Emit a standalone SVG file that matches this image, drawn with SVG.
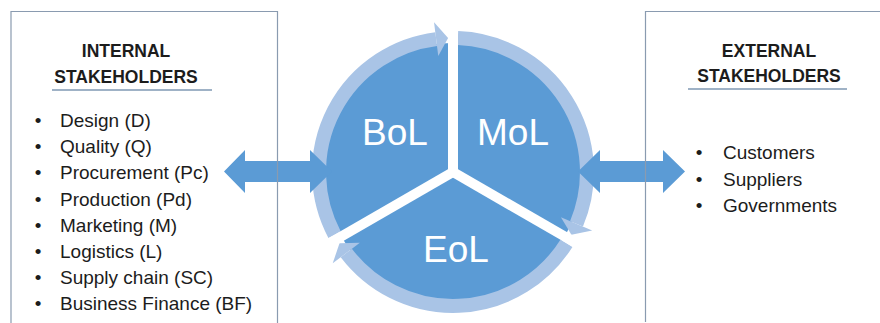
<svg xmlns="http://www.w3.org/2000/svg" width="880" height="323" viewBox="0 0 880 323">
  <style>
    .box { fill: none; stroke: #8a9bb0; stroke-width: 1.2; }
    .title { font-family: "Liberation Sans", Arial, sans-serif; font-weight: bold; font-size: 17.5px; fill: #1c1c1c; text-anchor: middle; }
    .item { font-family: "Liberation Sans", Arial, sans-serif; font-size: 19px; fill: #1c1c1c; }
    .bullet { font-family: "Liberation Sans", Arial, sans-serif; font-size: 19px; fill: #1c1c1c; text-anchor: middle; }
    .rule { stroke: #9fb2c6; stroke-width: 2; }
    .stage { font-family: "Liberation Sans", Arial, sans-serif; font-size: 37px; fill: #ffffff; text-anchor: middle; }
    .ring { fill: none; stroke: #a9c4e6; stroke-width: 14; }
    .head { fill: #a9c4e6; }
    .gap { stroke: #ffffff; stroke-width: 10; }
    .dbl { fill: #5b9bd5; }
  </style>
  <rect width="880" height="323" fill="#ffffff"/>

  <!-- Lifecycle cycle -->
  <g id="cycle">
    <circle cx="453" cy="172" r="129" fill="#5b9bd5"/>
    <g id="ring-arrows">
      <g id="mol-arrow">
        <path class="ring" d="M457.9,38.1 A134,134 0 0 1 576.5,223.9"/>
        <polygon class="head" points="560.9,217.3 592.2,230.5 571.4,234.7"/>
      </g>
      <g id="eol-arrow" transform="rotate(120 453 172)">
        <path class="ring" d="M457.9,38.1 A134,134 0 0 1 576.5,223.9"/>
        <polygon class="head" points="560.9,217.3 592.2,230.5 571.4,234.7"/>
      </g>
      <g id="bol-arrow" transform="rotate(240 453 172)">
        <path class="ring" d="M457.9,38.1 A134,134 0 0 1 576.5,223.9"/>
        <polygon class="head" points="560.9,217.3 592.2,230.5 571.4,234.7"/>
      </g>
    </g>
    <g id="gaps">
      <line class="gap" x1="453" y1="172" x2="453" y2="18"/>
      <line class="gap" x1="453" y1="172" x2="586.4" y2="249"/>
      <line class="gap" x1="453" y1="172" x2="319.6" y2="249"/>
    </g>
    <g id="bol"><text class="stage" x="395" y="145">BoL</text></g>
    <g id="mol"><text class="stage" x="513" y="145">MoL</text></g>
    <g id="eol"><text class="stage" x="456" y="262">EoL</text></g>
  </g>

  <!-- Connectors -->
  <g id="connectors">
    <polygon class="dbl" points="224,171.5 245,150 245,161 310,161 310,150 332,171.5 310,193 310,182 245,182 245,193"/>
    <polygon class="dbl" points="578,171.5 600,150 600,161 663,161 663,150 685,171.5 663,193 663,182 600,182 600,193"/>
  </g>

  <!-- Internal stakeholders -->
  <g id="internal">
    <path class="box" d="M11,330 V11.5 H277.5 V330"/>
    <text class="title" x="126" y="57">INTERNAL</text>
    <text class="title" x="126" y="82.5">STAKEHOLDERS</text>
    <line class="rule" x1="52" y1="90" x2="212" y2="90"/>
    <g>
      <text class="bullet" x="38" y="127">•</text><text class="item" x="60" y="127">Design (D)</text>
      <text class="bullet" x="38" y="153.2">•</text><text class="item" x="60" y="153.2">Quality (Q)</text>
      <text class="bullet" x="38" y="179.4">•</text><text class="item" x="60" y="179.4">Procurement (Pc)</text>
      <text class="bullet" x="38" y="205.6">•</text><text class="item" x="60" y="205.6">Production (Pd)</text>
      <text class="bullet" x="38" y="231.8">•</text><text class="item" x="60" y="231.8">Marketing (M)</text>
      <text class="bullet" x="38" y="258">•</text><text class="item" x="60" y="258">Logistics (L)</text>
      <text class="bullet" x="38" y="284.2">•</text><text class="item" x="60" y="284.2">Supply chain (SC)</text>
      <text class="bullet" x="38" y="310.4">•</text><text class="item" x="60" y="310.4">Business Finance (BF)</text>
    </g>
  </g>

  <!-- External stakeholders -->
  <g id="external">
    <path class="box" d="M645.5,322 V11.5 H890"/>
    <text class="title" x="769" y="57">EXTERNAL</text>
    <text class="title" x="769" y="82">STAKEHOLDERS</text>
    <line class="rule" x1="688" y1="89" x2="847" y2="89"/>
    <g>
      <text class="bullet" x="699" y="159">•</text><text class="item" x="723" y="159">Customers</text>
      <text class="bullet" x="699" y="185.5">•</text><text class="item" x="723" y="185.5">Suppliers</text>
      <text class="bullet" x="699" y="212">•</text><text class="item" x="723" y="212">Governments</text>
    </g>
  </g>
</svg>
